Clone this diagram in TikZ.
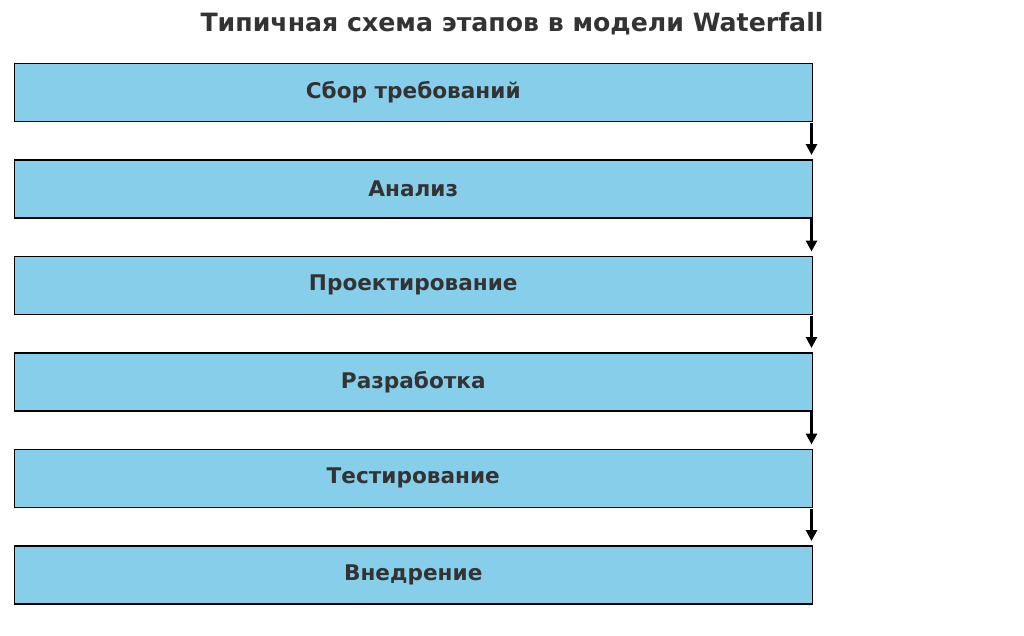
\documentclass[tikz,border=0pt]{standalone}
\usepackage{fontspec}
\setmainfont{DejaVu Sans}
\usetikzlibrary{arrows.meta}
\definecolor{boxblue}{HTML}{87CEEB}
\definecolor{txt}{HTML}{333333}
\begin{document}
\begin{tikzpicture}[x=1pt,y=-1pt,
  stage/.style={draw=black,line width=1.5pt,fill=boxblue,minimum width=798pt,minimum height=58pt,inner sep=0pt,anchor=north west,text=txt,font=\fontsize{21.6}{25}\selectfont\bfseries},
  flow/.style={line width=3.4pt,shorten >=4pt,-{Triangle[length=11pt,width=11pt]}}]
\useasboundingbox (0,0) rectangle (1024,635);
\node[text=txt,font=\fontsize{25.2}{30}\selectfont\bfseries] (title) at (512,24) {Типичная схема этапов в модели Waterfall};
\node[stage] (s1) at (13.5,62.5) {Сбор требований};
\node[stage] (s2) at (13.5,159) {Анализ};
\node[stage] (s3) at (13.5,255.5) {Проектирование};
\node[stage] (s4) at (13.5,352) {Разработка};
\node[stage] (s5) at (13.5,448.5) {Тестирование};
\node[stage] (s6) at (13.5,545) {Внедрение};
\foreach \a/\b in {s1/s2,s2/s3,s3/s4,s4/s5,s5/s6}
  \draw[flow] ([xshift=-1.5pt,yshift=-0.8pt]\a.south east) -- ([xshift=-1.5pt]\b.north east);
\end{tikzpicture}
\end{document}
